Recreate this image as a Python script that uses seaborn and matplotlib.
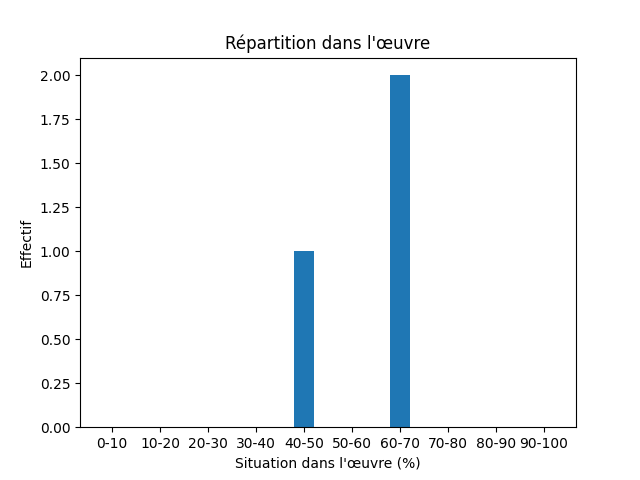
import matplotlib
matplotlib.use("Agg")
import matplotlib.pyplot as plt
import seaborn as sns
import pandas as pd

# tranches de position dans l'oeuvre et effectifs
tranches = ['0-10', '10-20', '20-30', '30-40', '40-50',
            '50-60', '60-70', '70-80', '80-90', '90-100']
effectifs = [0, 0, 0, 0, 1, 0, 2, 0, 0, 0]

df = pd.DataFrame({'tranche': tranches, 'effectif': effectifs})

fig, ax = plt.subplots(figsize=(6.4, 4.8), dpi=100)
sns.barplot(data=df, x='tranche', y='effectif', order=tranches,
            color='#1f77b4', saturation=1, width=0.4, ax=ax)
ax.set_xlim(-0.67, 9.67)
ax.set_title("Répartition dans l'œuvre")
ax.set_xlabel("Situation dans l'œuvre (%)")
ax.set_ylabel("Effectif")
ax.yaxis.set_major_formatter(matplotlib.ticker.FormatStrFormatter('%.2f'))

fig.savefig('out.png', dpi=100)
